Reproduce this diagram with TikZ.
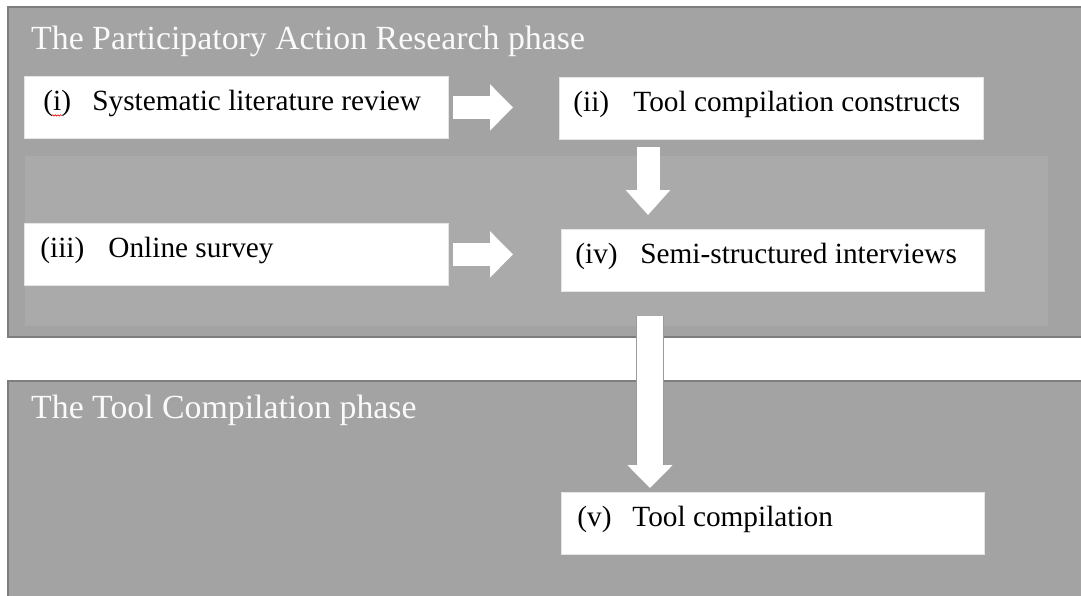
\documentclass[tikz,border=0pt]{standalone}
\usepackage{fontspec}
\setmainfont{Liberation Serif}
\usetikzlibrary{arrows.meta,decorations.pathmorphing}
\definecolor{panelgray}{HTML}{A3A3A3}
\definecolor{innergray}{HTML}{AAAAAA}
\definecolor{rimgray}{HTML}{7E7E7E}
\definecolor{titlewhite}{HTML}{FAFAFA}
\definecolor{arrowrim}{HTML}{9A9A9A}
\begin{document}
\begin{tikzpicture}[x=1pt,y=-1pt,
  panelbox/.style={fill=panelgray,draw=rimgray,line width=2.6pt},
  innerbox/.style={fill=innergray,draw=none},
  stepbox/.style={fill=white,draw=black!10,line width=0.8pt,inner xsep=0pt,inner ysep=0pt,
    minimum width=424pt,minimum height=62pt,text height=20pt,text depth=13pt,
    anchor=north west,font=\fontsize{29.3}{34}\selectfont},
  phasetitle/.style={anchor=base west,text=titlewhite,inner sep=0pt,
    font=\fontsize{33.8}{40}\selectfont},
  blockarrow/.style={draw=white,line width=23pt,-{Triangle[length=23pt,width=45pt]}}
]
\useasboundingbox (0,0) rectangle (1081,595);
\clip (0,0) rectangle (1081,595);
\fill[white] (0,0) rectangle (1081,595);

% panels
\draw[panelbox] (8,7) rectangle (1100,337);
\fill[innergray] (25,156) rectangle (1048,326);
\draw[panelbox] (8,381) rectangle (1100,620);

% titles
\node[phasetitle] (t1) at (31,49) {The Participatory Action Research phase};
\node[phasetitle] (t2) at (31,418) {The Tool Compilation phase};

% steps
\node[stepbox] (i) at (24,76) {\makebox[424pt][l]{\hspace*{19pt}\makebox[49pt][l]{(i)}Systematic literature review}};
\node[stepbox] (ii) at (559,77) {\makebox[424pt][l]{\hspace*{14pt}\makebox[60pt][l]{(ii)}Tool compilation constructs}};
\node[stepbox] (iii) at (24,223) {\makebox[424pt][l]{\hspace*{16pt}\makebox[68pt][l]{(iii)}Online survey}};
\node[stepbox,minimum width=423pt] (iv) at (561,229) {\makebox[423pt][l]{\hspace*{14pt}\makebox[65pt][l]{(iv)}Semi-structured interviews}};
\node[stepbox,minimum width=423pt] (v) at (561,492) {\makebox[423pt][l]{\hspace*{16pt}\makebox[55pt][l]{(v)}Tool compilation}};

% spell-check squiggle under (i)
\draw[red!90!black,line width=0.6pt,decorate,decoration={snake,amplitude=0.7pt,segment length=2.6pt}]
  ([xshift=28pt,yshift=-8pt]i.west) -- ([xshift=38pt,yshift=-8pt]i.west);

% arrows
\draw[blockarrow,shorten <=4pt,shorten >=46pt] (i.east) -- (i.east -| ii.west);
\draw[blockarrow,shorten <=4pt,shorten >=48pt] (iii.east) -- (iii.east -| iv.west);
\draw[blockarrow,line width=23pt,-{Triangle[length=25pt,width=43pt]},shorten <=7pt,shorten >=14pt]
  ([xshift=89pt]ii.south west) -- ([xshift=89pt]ii.south west |- iv.north);
\draw[draw=arrowrim,line width=28pt,shorten <=24pt,shorten >=27pt]
  ([xshift=89pt]iv.south west) -- ([xshift=89pt]iv.south west |- v.north);
\draw[blockarrow,line width=26pt,-{Triangle[length=23pt,width=44pt]},shorten <=24pt,shorten >=4pt]
  ([xshift=89pt]iv.south west) -- ([xshift=89pt]iv.south west |- v.north);
\end{tikzpicture}
\end{document}
